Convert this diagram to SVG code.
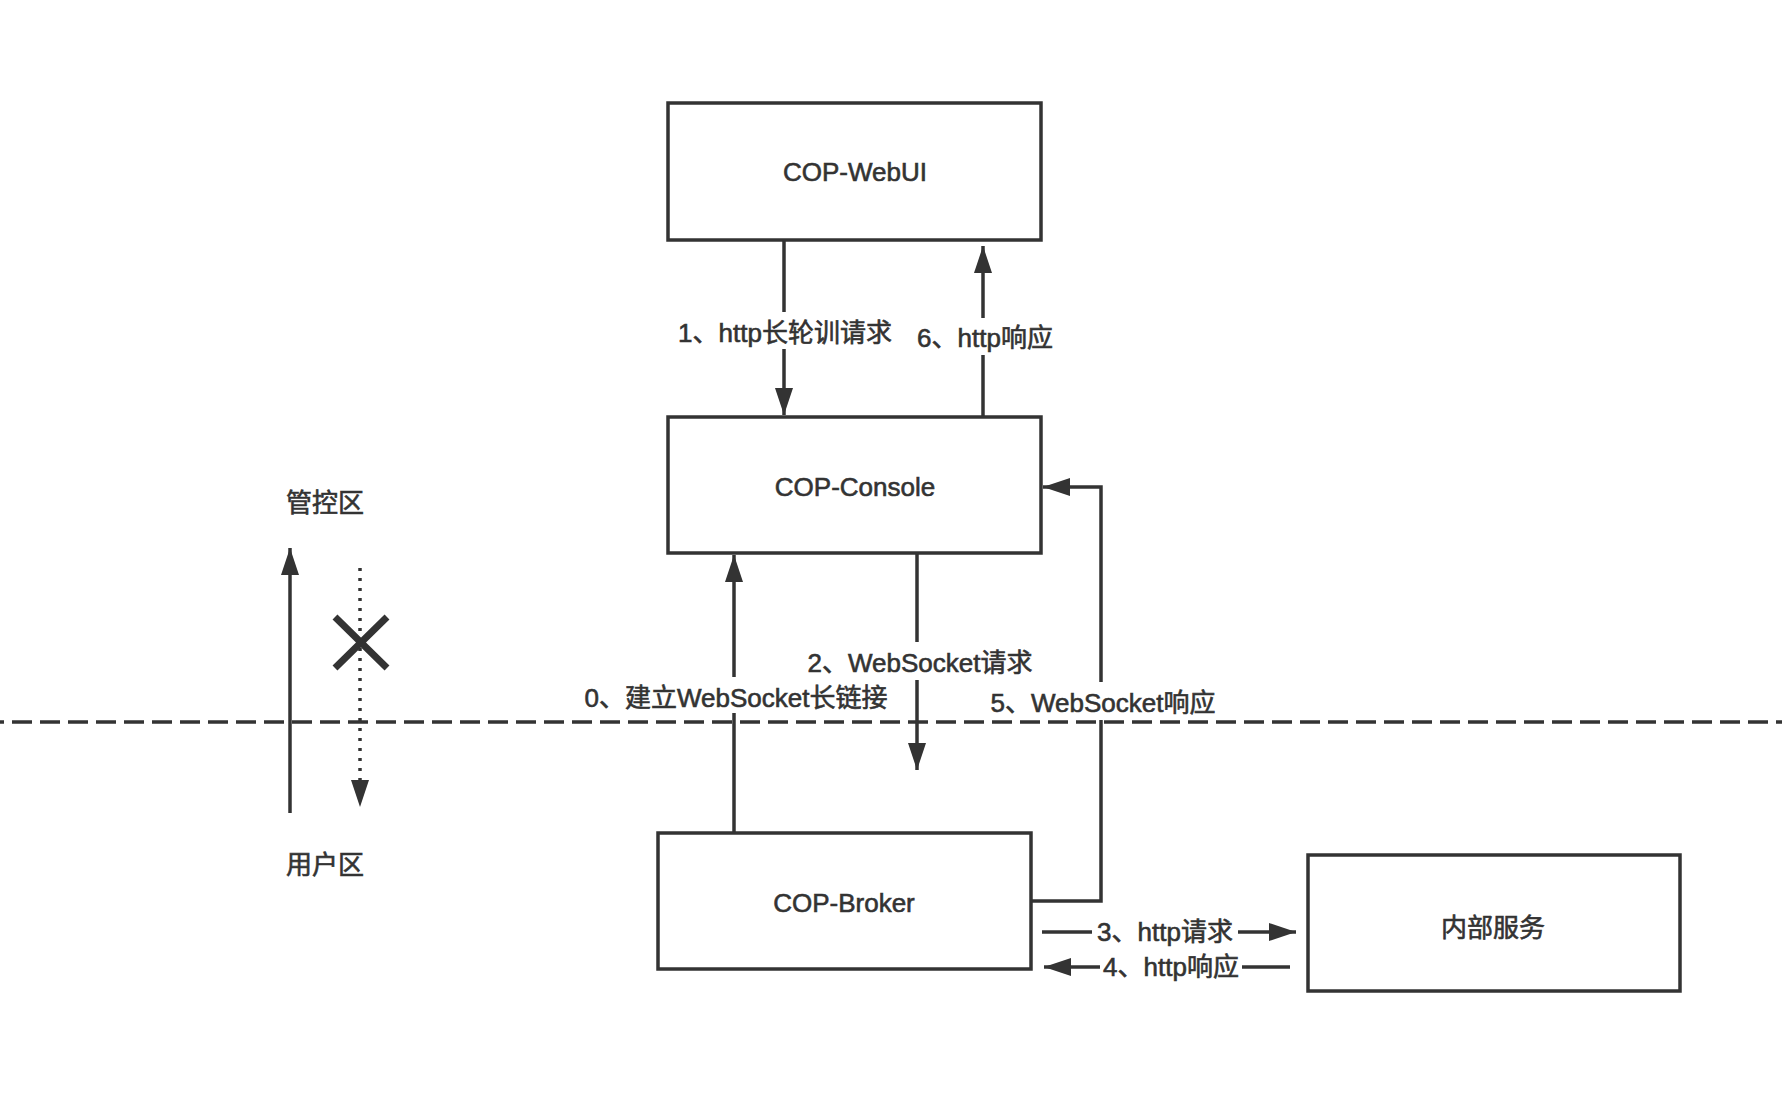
<svg xmlns="http://www.w3.org/2000/svg" width="1782" height="1096" viewBox="0 0 1782 1096">
  <style>
    .box { fill: #ffffff; stroke: #333333; stroke-width: 3.5; }
    .edge { fill: none; stroke: #333333; stroke-width: 3.5; }
    .txt { font-family: "Liberation Sans", "Noto Sans CJK SC", sans-serif; font-size: 26px; fill: #333333; stroke: #333333; stroke-width: 0.6; text-anchor: middle; }
    .bg { fill: #ffffff; stroke: none; }
  </style>
  <defs>
    <marker id="arrow" markerUnits="userSpaceOnUse" markerWidth="27" markerHeight="18" refX="27" refY="9" orient="auto" viewBox="0 0 27 18">
      <path d="M0,0 L27,9 L0,18 Z" fill="#333333" stroke="none"/>
    </marker>
  </defs>
  <rect width="1782" height="1096" fill="#ffffff"/>

  <g id="zone-divider">
    <path class="edge" d="M0,722 H1782" stroke-dasharray="20 8" stroke-dashoffset="16"/>
  </g>

  <g id="connectors">
    <path class="edge" d="M784,241 V415" marker-end="url(#arrow)"/>
    <path class="edge" d="M983,417 V246" marker-end="url(#arrow)"/>
    <path class="edge" d="M734,833 V555" marker-end="url(#arrow)"/>
    <path class="edge" d="M917,554 V770" marker-end="url(#arrow)"/>
    <path class="edge" d="M1031,901 H1101 V487 H1043" marker-end="url(#arrow)"/>
    <path class="edge" d="M1042,932 H1296" marker-end="url(#arrow)"/>
    <path class="edge" d="M1290,967 H1044" marker-end="url(#arrow)"/>
    <path class="edge" d="M290,813 V548" marker-end="url(#arrow)"/>
    <path class="edge" d="M360,568 V807" stroke-dasharray="3 7" marker-end="url(#arrow)"/>
  </g>

  <g id="forbidden-mark">
    <path d="M335,617 L387,668 M387,617 L335,668" fill="none" stroke="#333333" stroke-width="7"/>
  </g>

  <g id="edge-labels">
    <rect class="bg" x="676" y="312" width="219" height="37"/>
    <text class="txt" x="785" y="342">1、http长轮训请求</text>
    <rect class="bg" x="910" y="318" width="150" height="37"/>
    <text class="txt" x="985" y="347">6、http响应</text>
    <rect class="bg" x="800" y="642" width="240" height="38"/>
    <text class="txt" x="920" y="672">2、WebSocket请求</text>
    <rect class="bg" x="577" y="677" width="319" height="36"/>
    <text class="txt" x="736" y="707">0、建立WebSocket长链接</text>
    <rect class="bg" x="983" y="682" width="240" height="38"/>
    <text class="txt" x="1103" y="712">5、WebSocket响应</text>
    <rect class="bg" x="1092" y="916" width="146" height="34"/>
    <text class="txt" x="1165" y="941">3、http请求</text>
    <rect class="bg" x="1100" y="951" width="142" height="34"/>
    <text class="txt" x="1171" y="976">4、http响应</text>
  </g>

  <g id="zone-labels">
    <text class="txt" x="325" y="512">管控区</text>
    <text class="txt" x="325" y="874">用户区</text>
  </g>

  <g id="node-webui">
    <rect class="box" x="668" y="103" width="373" height="137"/>
    <text class="txt" x="855" y="181">COP-WebUI</text>
  </g>
  <g id="node-console">
    <rect class="box" x="668" y="417" width="373" height="136"/>
    <text class="txt" x="855" y="496">COP-Console</text>
  </g>
  <g id="node-broker">
    <rect class="box" x="658" y="833" width="373" height="136"/>
    <text class="txt" x="844" y="912">COP-Broker</text>
  </g>
  <g id="node-internal">
    <rect class="box" x="1308" y="855" width="372" height="136"/>
    <text class="txt" x="1493" y="937">内部服务</text>
  </g>
</svg>
